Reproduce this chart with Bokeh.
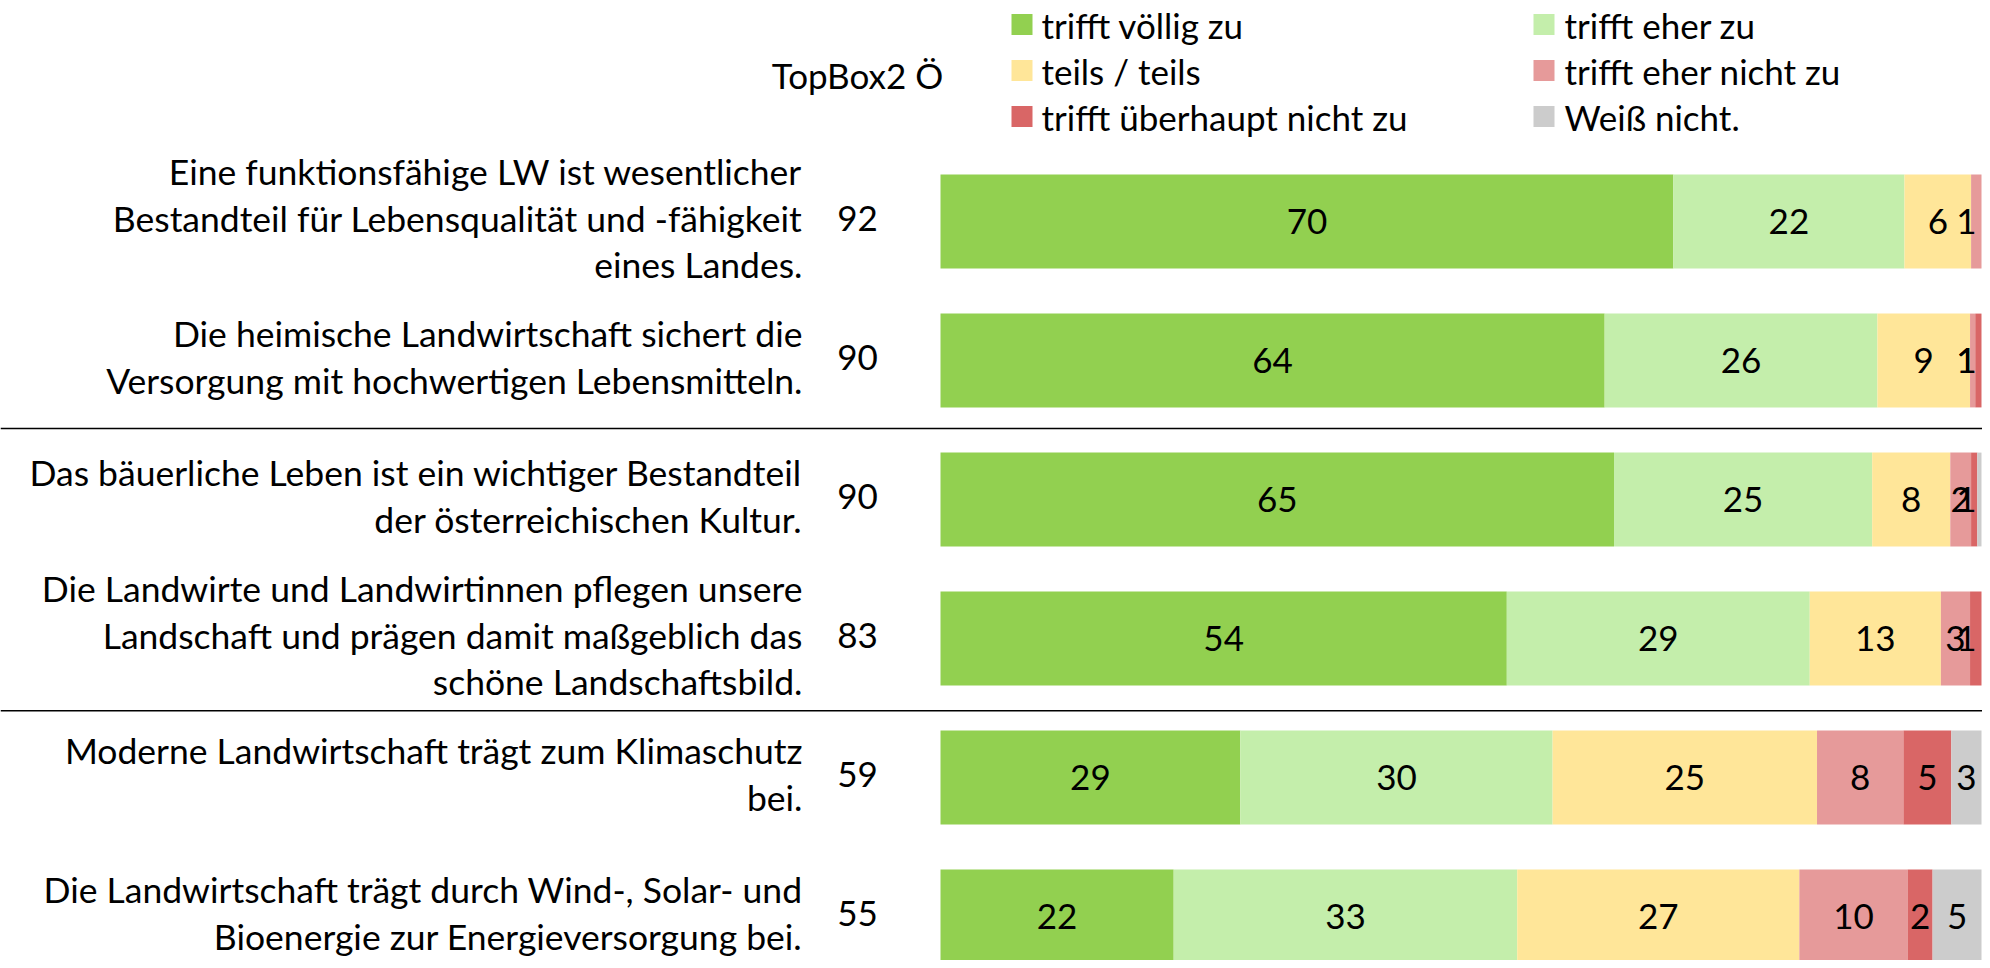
import numpy as np
from bokeh.plotting import figure
from bokeh.models import Range1d, ColumnDataSource
from bokeh.core.properties import value
from bokeh.embed import file_html
from bokeh.resources import INLINE

# ---------------- data ----------------
statements = [
    "Eine funktionsfähige LW ist wesentlicher\nBestandteil für Lebensqualität und -fähigkeit\neines Landes.",
    "Die heimische Landwirtschaft sichert die\nVersorgung mit hochwertigen Lebensmitteln.",
    "Das bäuerliche Leben ist ein wichtiger Bestandteil\nder österreichischen Kultur.",
    "Die Landwirte und Landwirtinnen pflegen unsere\nLandschaft und prägen damit maßgeblich das\nschöne Landschaftsbild.",
    "Moderne Landwirtschaft trägt zum Klimaschutz\nbei.",
    "Die Landwirtschaft trägt durch Wind-, Solar- und\nBioenergie zur Energieversorgung bei.",
]
topbox = [92, 90, 90, 83, 59, 55]
topbox_title = "TopBox2 Ö"

categories = ["trifft völlig zu", "trifft eher zu", "teils / teils",
              "trifft eher nicht zu", "trifft überhaupt nicht zu", "Weiß nicht."]
colors = ["#92D050", "#C4EEAB", "#FFE699", "#E69A9A", "#D96666", "#CCCCCC"]

trifft_voellig = [70.4, 63.8, 64.7, 54.4, 28.8, 22.4]
trifft_eher = [22.2, 26.2, 24.8, 29.1, 30.0, 33.0]
teils_teils = [6.4, 8.9, 7.5, 12.6, 25.4, 27.1]
eher_nicht = [1.0, 0.5, 2.0, 2.8, 8.3, 10.4]
ueberhaupt_nicht = [0.0, 0.6, 0.6, 1.1, 4.6, 2.4]
weiss_nicht = [0.0, 0.0, 0.4, 0.0, 2.9, 4.7]
series = [trifft_voellig, trifft_eher, teils_teils, eher_nicht, ueberhaupt_nicht, weiss_nicht]

separators = [1.49, 3.52]   # boundaries between statement groups (row units)

# ---------------- layout ----------------
W, H = 1982, 960
BAR_X0 = 940                 # pixel where 0 % sits
PX_PER_UNIT = (1981 - BAR_X0) / 100.0
ROW0 = 221                   # pixel (from top) of first row centre
ROW_STEP = 139.0             # pixels between rows
FONT = "Lato"
FS_TEXT = "35.5px"
FS_LEG = "35px"
FS_NUM = "35px"

x_start = -BAR_X0 / PX_PER_UNIT
x_end = (W - BAR_X0) / PX_PER_UNIT
y_bottom = (H - ROW0) / ROW_STEP
y_top = -ROW0 / ROW_STEP

def px_to_x(px):
    return (px - BAR_X0) / PX_PER_UNIT

def py_to_y(py):
    return (py - ROW0) / ROW_STEP

p = figure(width=W, height=H, output_backend="svg", toolbar_location=None,
           x_range=Range1d(x_start, x_end), y_range=Range1d(y_bottom, y_top),
           x_axis_location=None, y_axis_location=None, min_border=0,
           outline_line_color=None, background_fill_color="white",
           border_fill_color="white")
p.grid.visible = False

rows = np.arange(len(statements))
vals = np.array(series)            # shape (cats, rows)
lefts = np.vstack([np.zeros(len(rows)), np.cumsum(vals, axis=0)[:-1]])
rights = lefts + vals

for ci, cat in enumerate(categories):
    src = ColumnDataSource(dict(y=rows, left=lefts[ci], right=rights[ci]))
    p.hbar(y="y", left="left", right="right", height=0.675, source=src,
           fill_color=colors[ci], line_color=None)

# segment value labels (kept inside the plot at the right end)
lx, ly, lt = [], [], []
clamp = px_to_x(1966)
for ci in range(len(categories)):
    for r in rows:
        v = vals[ci, r]
        lab = int(v + 0.5)
        if lab < 1:
            continue
        c = (lefts[ci, r] + rights[ci, r]) / 2
        lx.append(min(c, clamp))
        ly.append(r)
        lt.append(str(lab))
p.text(x=lx, y=ly, text=lt, text_align="center", text_baseline="middle",
       text_font=value(FONT), text_font_size=FS_NUM, text_color="black")

# statement labels
p.text(x=[px_to_x(802)] * len(rows), y=rows - 0.025, text=statements, text_align="right",
       text_baseline="middle", text_font=value(FONT), text_font_size=FS_TEXT,
       text_line_height=1.09, text_color="black")

# TopBox column
tb_x = px_to_x(857)
p.text(x=[tb_x] * len(rows), y=rows - 0.02, text=[str(t) for t in topbox],
       text_align="center", text_baseline="middle", text_font=value(FONT),
       text_font_size=FS_NUM, text_color="black")
p.text(x=[tb_x], y=[py_to_y(74)], text=[topbox_title], text_align="center",
       text_baseline="middle", text_font=value(FONT), text_font_size=FS_NUM,
       text_color="black")

# separator lines
for s in separators:
    p.line(x=[x_start, x_end], y=[s, s], line_color="black", line_width=1.5)

# legend (two columns, row-major)
leg_mx = [px_to_x(1021.5), px_to_x(1543.5)]
leg_tx = [px_to_x(1041), px_to_x(1564)]
leg_y = [py_to_y(24), py_to_y(70), py_to_y(116)]
mx, my, mc, tx, ty, tt = [], [], [], [], [], []
for i, cat in enumerate(categories):
    col, row = i % 2, i // 2
    mx.append(leg_mx[col]); my.append(leg_y[row]); mc.append(colors[i])
    tx.append(leg_tx[col]); ty.append(leg_y[row]); tt.append(cat)
p.scatter(x=mx, y=my, marker="square", size=21, fill_color=mc, line_color=None)
p.text(x=tx, y=ty, text=tt, text_align="left", text_baseline="middle",
       text_font=value(FONT), text_font_size=FS_LEG, text_color="black")

open("out.html", "w").write(file_html(p, INLINE))
